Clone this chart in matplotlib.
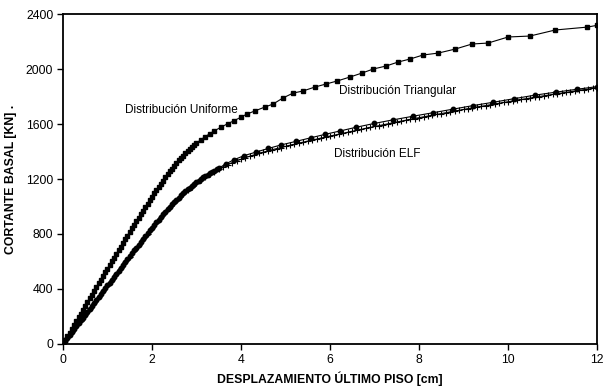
import matplotlib
matplotlib.use("Agg")
import matplotlib.pyplot as plt

plt.rcParams['font.family'] = ['Liberation Sans', 'DejaVu Sans']

# Distribución Uniforme (cuadrados)
x_unif = [0.00, 0.05, 0.10, 0.15, 0.20, 0.25, 0.30, 0.35, 0.40, 0.45,
          0.50, 0.55, 0.60, 0.65, 0.70, 0.75, 0.80, 0.85, 0.90, 0.95,
          1.00, 1.05, 1.10, 1.15, 1.20, 1.25, 1.30, 1.35, 1.40, 1.45,
          1.50, 1.55, 1.60, 1.65, 1.70, 1.75, 1.80, 1.85, 1.90, 1.95,
          2.00, 2.05, 2.10, 2.15, 2.20, 2.25, 2.30, 2.35, 2.40, 2.45,
          2.50, 2.55, 2.60, 2.65, 2.70, 2.75, 2.80, 2.85, 2.90, 2.95,
          3.00, 3.10, 3.20, 3.30, 3.40, 3.55, 3.70, 3.85, 4.00, 4.13,
          4.31, 4.54, 4.72, 4.94, 5.17, 5.39, 5.66, 5.91, 6.16, 6.45,
          6.72, 6.97, 7.26, 7.53, 7.80, 8.09, 8.43, 8.81, 9.19, 9.55,
          10.00, 10.49, 11.06, 11.78, 12.00]
y_unif = [0, 28, 56, 83, 111, 139, 166, 194, 221, 249,
          276, 303, 331, 358, 385, 412, 440, 467, 494, 521,
          548, 575, 602, 629, 656, 683, 709, 736, 762, 789,
          815, 841, 867, 893, 919, 945, 970, 996, 1021, 1046,
          1071, 1095, 1119, 1143, 1166, 1189, 1212, 1234, 1255, 1276,
          1296, 1316, 1335, 1353, 1371, 1388, 1404, 1419, 1434, 1448,
          1461, 1486, 1509, 1530, 1550, 1577, 1602, 1625, 1650, 1672,
          1695, 1724, 1745, 1789, 1825, 1840, 1869, 1891, 1913, 1942,
          1971, 2000, 2022, 2051, 2073, 2102, 2116, 2145, 2182, 2189,
          2233, 2240, 2284, 2305, 2318]

# Distribución Triangular (círculos)
x_tri = [0.00, 0.05, 0.10, 0.15, 0.20, 0.25, 0.30, 0.35, 0.40, 0.45,
         0.50, 0.55, 0.60, 0.65, 0.70, 0.75, 0.80, 0.85, 0.90, 0.95,
         1.00, 1.05, 1.10, 1.15, 1.20, 1.25, 1.30, 1.35, 1.40, 1.45,
         1.50, 1.55, 1.60, 1.65, 1.70, 1.75, 1.80, 1.85, 1.90, 1.95,
         2.00, 2.05, 2.10, 2.15, 2.20, 2.25, 2.30, 2.35, 2.40, 2.45,
         2.50, 2.55, 2.60, 2.65, 2.70, 2.75, 2.80, 2.85, 2.90, 2.95,
         3.00, 3.05, 3.10, 3.15, 3.20, 3.25, 3.30, 3.35, 3.40, 3.45,
         3.50, 3.66, 3.84, 4.07, 4.34, 4.61, 4.90, 5.24, 5.57, 5.89,
         6.22, 6.58, 6.99, 7.41, 7.87, 8.31, 8.76, 9.21, 9.66, 10.13,
         10.60, 11.08, 11.55, 12.00]
y_tri = [0, 21, 43, 64, 85, 107, 128, 149, 171, 192,
         213, 235, 256, 277, 298, 320, 341, 362, 384, 405,
         426, 447, 469, 490, 511, 532, 554, 575, 596, 617,
         638, 659, 680, 701, 722, 743, 764, 785, 805, 826,
         846, 866, 886, 905, 925, 944, 962, 981, 998, 1016,
         1033, 1049, 1065, 1081, 1096, 1110, 1124, 1138, 1151, 1164,
         1176, 1188, 1200, 1211, 1222, 1232, 1242, 1252, 1261, 1270,
         1279, 1310, 1340, 1370, 1396, 1422, 1448, 1474, 1500, 1525,
         1549, 1576, 1604, 1630, 1657, 1682, 1708, 1734, 1758, 1784,
         1810, 1832, 1853, 1872]

# Distribución ELF (cruces)
x_elf = [0.0, 0.1, 0.2, 0.3, 0.4, 0.5, 0.6, 0.7, 0.8, 0.9,
         1.0, 1.1, 1.2, 1.3, 1.4, 1.5, 1.6, 1.7, 1.8, 1.9,
         2.0, 2.1, 2.2, 2.3, 2.4, 2.5, 2.6, 2.7, 2.8, 2.9,
         3.0, 3.1, 3.2, 3.3, 3.4, 3.5, 3.6, 3.7, 3.8, 3.9,
         4.0, 4.1, 4.2, 4.3, 4.4, 4.5, 4.6, 4.7, 4.8, 4.9,
         5.0, 5.1, 5.2, 5.3, 5.4, 5.5, 5.6, 5.7, 5.8, 5.9,
         6.0, 6.1, 6.2, 6.3, 6.4, 6.5, 6.6, 6.7, 6.8, 6.9,
         7.0, 7.1, 7.2, 7.3, 7.4, 7.5, 7.6, 7.7, 7.8, 7.9,
         8.0, 8.1, 8.2, 8.3, 8.4, 8.5, 8.6, 8.7, 8.8, 8.9,
         9.0, 9.1, 9.2, 9.3, 9.4, 9.5, 9.6, 9.7, 9.8, 9.9,
         10.0, 10.1, 10.2, 10.3, 10.4, 10.5, 10.6, 10.7, 10.8, 10.9,
         11.0, 11.1, 11.2, 11.3, 11.4, 11.5, 11.6, 11.7, 11.8, 11.9,
         12.0]
y_elf = [0, 43, 85, 128, 170, 213, 255, 298, 340, 383,
         425, 467, 510, 552, 594, 636, 678, 720, 761, 802,
         843, 882, 921, 958, 994, 1028, 1060, 1091, 1119, 1145,
         1170, 1193, 1214, 1234, 1252, 1272, 1290, 1305, 1319, 1332,
         1344, 1355, 1366, 1376, 1386, 1395, 1404, 1413, 1421, 1429,
         1437, 1445, 1453, 1461, 1468, 1476, 1483, 1490, 1498, 1505,
         1512, 1519, 1526, 1533, 1540, 1547, 1554, 1561, 1568, 1575,
         1582, 1588, 1595, 1601, 1608, 1614, 1621, 1627, 1633, 1640,
         1646, 1652, 1658, 1664, 1670, 1676, 1682, 1688, 1694, 1700,
         1706, 1712, 1717, 1723, 1729, 1734, 1740, 1746, 1751, 1757,
         1762, 1768, 1773, 1779, 1784, 1789, 1795, 1800, 1805, 1810,
         1815, 1820, 1825, 1830, 1835, 1840, 1845, 1850, 1854, 1859,
         1864]

fig = plt.figure(figsize=(6.05, 3.9), dpi=100)
ax = fig.add_axes([0.104, 0.118, 0.883, 0.846])

ax.plot(x_elf, y_elf, color='black', linewidth=0.8, marker='+',
        markersize=5, markeredgewidth=0.8)
ax.plot(x_tri, y_tri, color='black', linewidth=0.8, marker='o',
        markersize=3.2)
ax.plot(x_unif, y_unif, color='black', linewidth=0.8, marker='s',
        markersize=3.3)

# etiquetas de las curvas
ax.text(1.39, 1702, "Distribución Uniforme", fontsize=8.5, va='center')
ax.text(6.2, 1840, "Distribución Triangular", fontsize=8.5, va='center')
ax.text(6.09, 1382, "Distribución ELF", fontsize=8.5, va='center')

ax.set_xlim(0, 12)
ax.set_ylim(0, 2400)
ax.set_xticks(range(0, 13, 2))
ax.set_yticks(range(0, 2401, 400))
ax.tick_params(direction='out', length=4, width=1, labelsize=8.8, pad=3)
for s in ax.spines.values():
    s.set_linewidth(1.3)

ax.set_xlabel("DESPLAZAMIENTO ÚLTIMO PISO [cm]", fontsize=8.8,
              fontweight='bold', labelpad=4)
ax.set_ylabel("CORTANTE BASAL [KN] .", fontsize=8.8, fontweight='bold',
              labelpad=6)

fig.savefig("out.png", dpi=100)
